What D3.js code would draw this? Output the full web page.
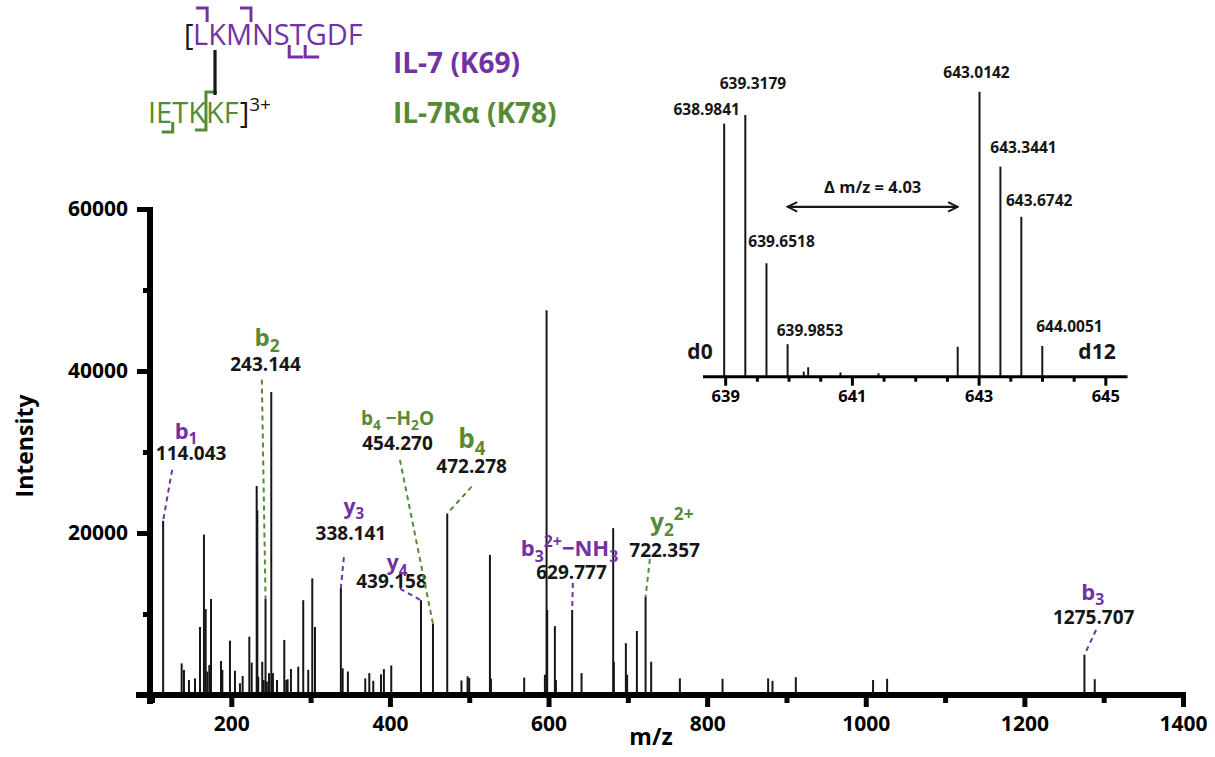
<!DOCTYPE html>
<html>
<head>
<meta charset="utf-8">
<script src="https://cdn.jsdelivr.net/npm/d3@7"></script>
<style>
  html, body { margin: 0; padding: 0; background: #ffffff; }
  svg { display: block; font-family: "Open Sans", "Liberation Sans", sans-serif; }
</style>
</head>
<body>
<svg id="chart" width="1215" height="757"></svg>
<script>
// ---------- MS/MS spectrum: unassigned peaks ----------
const peakMz = [137.4, 140.3, 146.6, 154.2, 160.5, 165.5, 167.7, 169.8, 172.3, 174.4, 187.0, 188.7, 198.3, 204.6,
  210.9, 214.3, 222.7, 225.7, 232.0, 232.8, 234.0, 239.0, 240.8, 244.8, 247.5, 250.4, 252.5, 257.6, 266.8, 269.3,
  271.0, 275.2, 284.4, 290.7, 297.0, 302.1, 305.5, 340.4, 347.0, 368.9, 374.0, 379.0, 388.7, 392.4, 401.7, 490.2,
  497.9, 500.0, 526.1, 527.4, 569.3, 595.4, 597.5, 598.3, 608.0, 609.3, 641.6, 681.5, 682.4, 697.5, 699.1, 711.4,
  729.4, 765.6, 819.4, 876.9, 882.4, 911.8, 1009.2, 1026.9, 1288.7];
const peakIntensity = [3900, 3100, 1850, 2050, 8400, 19800, 10600, 2900, 3700, 11850, 4200, 3100, 6700, 3000,
  1450, 2350, 7200, 4000, 25800, 22800, 2250, 4100, 1850, 1650, 2700, 37400, 2700, 1850, 6800, 1850,
  1950, 3200, 3500, 11700, 3100, 14400, 8400, 3300, 2900, 2050, 2700, 1750, 2550, 3200, 3650, 1800,
  2300, 2100, 17300, 2000, 2150, 2500, 47500, 10500, 8500, 1850, 2700, 20600, 4100, 6400, 2500, 7900,
  4100, 2050, 2000, 2050, 1750, 2200, 1850, 2000, 1950];

// ---------- assigned fragment ions ----------
const ionNames = ["b_{1}", "b_{2}", "y_{3}", "y_{4}", "b_{4} −H_{2}O", "b_{4}", "b_{3}^{2+}−NH_{3}", "y_{2}^{2+}", "b_{3}"];
const ionMz = [114.043, 243.144, 338.141, 439.158, 454.270, 472.278, 629.777, 722.357, 1275.707];
const ionIntensity = [21500, 11900, 13200, 11700, 8800, 22400, 10500, 12100, 4950];
const ionChain = ["IL-7", "IL-7Rα", "IL-7", "IL-7", "IL-7Rα", "IL-7Rα", "IL-7", "IL-7Rα", "IL-7"];

// ---------- precursor isotope envelope (MS1) ----------
const msMz = [638.9841, 639.3179, 639.6518, 639.9853, 640.24, 640.31, 640.82, 641.42, 642.67,
  643.0142, 643.3441, 643.6742, 644.0051];
const msRelative = [88.8, 91.8, 39.8, 11.4, 1.8, 3.3, 1.5, 1.2, 10.5, 100, 73.7, 56.1, 10.8];
const msLabelled = [638.9841, 639.3179, 639.6518, 639.9853, 643.0142, 643.3441, 643.6742, 644.0051];

// ---------- axis ticks ----------
const xTicks = [200, 400, 600, 800, 1000, 1200, 1400];
const xMinorTicks = [100, 300, 500, 700, 900, 1100, 1300];
const yTicks = [0, 20000, 40000, 60000];
const yMinorTicks = [10000, 30000, 50000];
const insetTicks = [639, 641, 643, 645];
const insetMinorTicks = [639.5, 640, 640.5, 641.5, 642, 642.5, 643.5, 644, 644.5];

// ---------- cross-linked peptide ----------
const il7Seq = "LKMNSTGDF";
const il7rSeq = "IETKKF";
const chargeState = "3+";

// ---------- styling / layout ----------
const colors = { "IL-7": "#7231a5", "IL-7Rα": "#568a35" };
const ink = "#161616";

// label placement relative to the peak top: value text centre (dx, dy),
// ion text centre relative to value text, leader start relative to value text
const ionLayout = [
  { dx: 28, dy: -68, ix: -5, iy: -22, lx: -19, ly: 17, fs: 22 },
  { dx: 0, dy: -234, ix: 1.5, iy: -27, lx: -3.7, ly: 15, fs: 24 },
  { dx: 10, dy: -55, ix: 3, iy: -27, lx: -7, ly: 24, fs: 21 },
  { dx: -29.5, dy: -19.5, ix: 5.5, iy: -18, lx: 8.5, ly: 8, fs: 21 },
  { dx: -35.5, dy: -180.5, ix: 0, iy: -25, lx: 2.5, ly: 16.7, fs: 19 },
  { dx: 24.4, dy: -47.6, ix: 0.3, iy: -27, lx: 0, ly: 20.7, fs: 26 },
  { dx: -0.6, dy: -37.3, ix: -2, iy: -24.5, lx: 1.3, ly: 10.3, fs: 22 },
  { dx: 19, dy: -47, ix: 7.3, iy: -29, lx: -14.7, ly: 9, fs: 24 },
  { dx: 9.3, dy: -38.2, ix: -1, iy: -25, lx: 2.3, ly: 13.3, fs: 22 }
];
const msLabelOffset = [[-17.5, -14.3], [7.6, -31.8], [15.1, -21.6], [22.3, -14.2],
  [-3, -19], [23.1, -19.4], [17.9, -16.8], [27.2, -19.2]];

const svg = d3.select("#chart");

// ---------- scales ----------
const x = d3.scaleLinear().domain([100, 1400]).range([152, 1183]);
const y = d3.scaleLinear().domain([0, 60000]).range([695, 209]);
const xi = d3.scaleLinear().domain([638.65, 645.35]).range([703, 1127.5]);
const yi = d3.scaleLinear().domain([0, 100]).range([376.7, 91.7]);

// ---------- rich text helper (sub/superscripts) ----------
function richText(sel, str, fs) {
  const re = /(_\{[^}]*\}|\^\{[^}]*\}|[^_^]+)/g;
  let m, shift = 0;
  while ((m = re.exec(str))) {
    let t = m[0], mode = "n";
    if (t.startsWith("_{")) { mode = "sub"; t = t.slice(2, -1); }
    else if (t.startsWith("^{")) { mode = "sup"; t = t.slice(2, -1); }
    const target = mode === "sub" ? fs * 0.26 : mode === "sup" ? -fs * 0.4 : 0;
    sel.append("tspan")
      .attr("dy", target - shift)
      .attr("font-size", mode === "n" ? fs : fs * 0.72)
      .text(t);
    shift = target;
  }
}

// ---------- main spectrum ----------
const main = svg.append("g");

main.selectAll("line.peak")
  .data(d3.zip(peakMz, peakIntensity))
  .join("line")
  .attr("class", "peak")
  .attr("x1", d => x(d[0])).attr("x2", d => x(d[0]))
  .attr("y1", y(0)).attr("y2", d => y(d[1]))
  .attr("stroke", ink).attr("stroke-width", 2);

main.selectAll("line.ion")
  .data(d3.zip(ionMz, ionIntensity))
  .join("line")
  .attr("class", "ion")
  .attr("x1", d => x(d[0])).attr("x2", d => x(d[0]))
  .attr("y1", y(0)).attr("y2", d => y(d[1]))
  .attr("stroke", ink).attr("stroke-width", 2);

// axes
function styleAxis(g, width) {
  g.select(".domain").remove();
  g.selectAll(".tick line").attr("stroke", "#000").attr("stroke-width", width);
  g.selectAll(".tick text").attr("fill", "#000").attr("font-weight", 700)
    .attr("font-family", '"Open Sans", sans-serif');
}

const xAxisG = main.append("g").attr("transform", `translate(0,${y(0)})`)
  .call(d3.axisBottom(x).tickValues(xTicks).tickSize(12).tickSizeOuter(0).tickPadding(9).tickFormat(d3.format("d")))
  .call(g => styleAxis(g, 5));
xAxisG.selectAll(".tick text").attr("font-size", 21);
main.append("g").attr("transform", `translate(0,${y(0)})`)
  .call(d3.axisBottom(x).tickValues(xMinorTicks).tickSize(8).tickFormat(""))
  .call(g => styleAxis(g, 5));

const yAxisG = main.append("g").attr("transform", `translate(${x(100) - 2},0)`)
  .call(d3.axisLeft(y).tickValues(yTicks).tickSize(13).tickSizeOuter(0).tickPadding(9).tickFormat(d3.format("d")))
  .call(g => styleAxis(g, 5));
yAxisG.selectAll(".tick text").attr("font-size", 21);
yAxisG.selectAll(".tick").filter(d => d === 0).select("text").remove();
main.append("g").attr("transform", `translate(${x(100) - 2},0)`)
  .call(d3.axisLeft(y).tickValues(yMinorTicks).tickSize(7).tickFormat(""))
  .call(g => styleAxis(g, 5));

// axis lines
main.append("line").attr("x1", 136).attr("x2", x(1400) + 3).attr("y1", y(0)).attr("y2", y(0))
  .attr("stroke", "#000").attr("stroke-width", 6);
main.append("line").attr("x1", x(100) - 2).attr("x2", x(100) - 2).attr("y1", y(60000) - 2).attr("y2", y(0) + 9)
  .attr("stroke", "#000").attr("stroke-width", 6);

// axis titles
main.append("text").attr("x", 651).attr("y", 745).attr("text-anchor", "middle")
  .attr("font-size", 23).attr("font-weight", 700).attr("fill", "#000").text("m/z");
main.append("text").attr("transform", "translate(33,446) rotate(-90)").attr("text-anchor", "middle")
  .attr("font-size", 23).attr("font-weight", 700).attr("fill", "#000").text("Intensity");

// fragment ion annotations
ionMz.forEach((mz, i) => {
  const L = ionLayout[i];
  const px = x(mz), py = y(ionIntensity[i]);
  const vx = px + L.dx, vy = py + L.dy;
  const col = colors[ionChain[i]];
  main.append("line")
    .attr("x1", vx + L.lx).attr("y1", vy + L.ly)
    .attr("x2", px).attr("y2", py)
    .attr("stroke", col).attr("stroke-width", 2).attr("stroke-dasharray", "5,4");
  main.append("text").attr("x", vx).attr("y", vy + 19 * 0.36)
    .attr("text-anchor", "middle").attr("font-size", 19).attr("font-weight", 700)
    .attr("fill", ink).text(d3.format(".3f")(mz));
  const t = main.append("text").attr("x", vx + L.ix).attr("y", vy + L.iy + L.fs * 0.36)
    .attr("text-anchor", "middle").attr("font-weight", 700).attr("fill", col);
  richText(t, ionNames[i], L.fs);
});

// ---------- inset: precursor isotope envelope ----------
const inset = svg.append("g");
inset.selectAll("line.ms")
  .data(d3.zip(msMz, msRelative))
  .join("line")
  .attr("class", "ms")
  .attr("x1", d => xi(d[0])).attr("x2", d => xi(d[0]))
  .attr("y1", yi(0)).attr("y2", d => yi(d[1]))
  .attr("stroke", ink).attr("stroke-width", 2);

const insetAxis = inset.append("g").attr("transform", `translate(0,${yi(0)})`)
  .call(d3.axisBottom(xi).tickValues(insetTicks).tickSize(9).tickPadding(5).tickFormat(d3.format("d")))
  .call(g => styleAxis(g, 3));
insetAxis.selectAll(".tick text").attr("font-size", 16.5);
inset.append("g").attr("transform", `translate(0,${yi(0)})`)
  .call(d3.axisBottom(xi).tickValues(insetMinorTicks).tickSize(5).tickFormat(""))
  .call(g => styleAxis(g, 3));
inset.append("line").attr("x1", xi.range()[0]).attr("x2", xi.range()[1])
  .attr("y1", yi(0)).attr("y2", yi(0)).attr("stroke", "#000").attr("stroke-width", 3);

msLabelled.forEach((mz, i) => {
  const idx = msMz.indexOf(mz);
  const [dx, dy] = msLabelOffset[i];
  inset.append("text")
    .attr("x", xi(mz) + dx).attr("y", yi(msRelative[idx]) + dy + 5.5)
    .attr("text-anchor", "middle").attr("font-size", 15.5).attr("font-weight", 700)
    .attr("fill", ink).text(mz.toFixed(4));
});

inset.append("text").attr("x", 700).attr("y", 359).attr("text-anchor", "middle")
  .attr("font-size", 21).attr("font-weight", 700).attr("fill", ink).text("d0");
inset.append("text").attr("x", 1097).attr("y", 359).attr("text-anchor", "middle")
  .attr("font-size", 21).attr("font-weight", 700).attr("fill", ink).text("d12");

// isotope spacing arrow between light and heavy clusters
const arrowY = yi(59.6);
const ax1 = xi(msMz[3]), ax2 = xi(msMz[8]);
const defs = svg.append("defs");
defs.append("marker").attr("id", "ah").attr("viewBox", "0 0 10 10")
  .attr("refX", 9).attr("refY", 5).attr("markerWidth", 5).attr("markerHeight", 5)
  .attr("markerUnits", "strokeWidth").attr("orient", "auto-start-reverse")
  .append("path").attr("d", "M1,1 L9,5 L1,9").attr("fill", "none").attr("stroke", ink).attr("stroke-width", 1.6);
inset.append("line").attr("x1", ax1).attr("x2", ax2).attr("y1", arrowY).attr("y2", arrowY)
  .attr("stroke", ink).attr("stroke-width", 2.4)
  .attr("marker-start", "url(#ah)").attr("marker-end", "url(#ah)");
inset.append("text").attr("x", (ax1 + ax2) / 2).attr("y", arrowY - 14)
  .attr("text-anchor", "middle").attr("font-size", 16.5).attr("font-weight", 700).attr("fill", ink)
  .text("Δ m/z = " + d3.format(".2f")(msMz[9] - msMz[0]));

// ---------- cross-linked peptide scheme ----------
const pep = svg.append("g");
const fsPep = 29;
const row1Base = 45, row2Base = 123;

pep.append("text").attr("x", 184).attr("y", row1Base).attr("font-size", fsPep).attr("fill", ink).text("[");
const seq1 = pep.append("text").attr("x", 193).attr("y", row1Base).attr("font-size", fsPep)
  .attr("fill", colors["IL-7"]).text(il7Seq);
const seq2 = pep.append("text").attr("x", 148).attr("y", row2Base).attr("font-size", fsPep)
  .attr("fill", colors["IL-7Rα"]).text(il7rSeq);

const n1 = seq1.node(), n2 = seq2.node();
const after = (node, i) => { const e = node.getExtentOfChar(i); return e.x + e.width; };
const centre = (node, i) => { const e = node.getExtentOfChar(i); return e.x + e.width / 2; };

const end2 = after(n2, il7rSeq.length - 1);
const close = pep.append("text").attr("x", end2 + 1).attr("y", row2Base).attr("font-size", fsPep).attr("fill", ink);
close.append("tspan").text("]");
close.append("tspan").attr("dy", -12).attr("font-size", 19).text(chargeState);

const tab = 11, bw = 3;
const bracket = (pts, col) => pep.append("path")
  .attr("d", d3.line()(pts)).attr("fill", "none").attr("stroke", col)
  .attr("stroke-width", bw).attr("stroke-linejoin", "miter");

// IL-7: b-ion cleavages above, y-ion cleavages below
[0, 2].forEach(i => {
  const bx = after(n1, i) - 1;
  bracket([[bx - tab, 8], [bx, 8], [bx, 22]], colors["IL-7"]);
});
[4, 5].forEach(i => {
  const bx = after(n1, i) - 0.5;
  bracket([[bx, 45], [bx, 57], [bx + 14, 57]], colors["IL-7"]);
});
// IL-7Rα: b-ion after E, b/y pair between the two lysines
{
  const bx = after(n2, 1) + 0.5;
  bracket([[bx - tab, 132], [bx, 132], [bx, 122]], colors["IL-7Rα"]);
  const kx = after(n2, 3);
  bracket([[kx - tab, 130], [kx, 130], [kx, 92], [kx + tab, 92]], colors["IL-7Rα"]);
}

// cross-link between K69 and K78
const linkX = centre(n1, 1) - 2;
pep.append("line").attr("x1", linkX).attr("x2", linkX).attr("y1", 50).attr("y2", 95)
  .attr("stroke", ink).attr("stroke-width", 3.2);

pep.append("text").attr("x", 393).attr("y", 73).attr("font-size", 28).attr("font-weight", 700)
  .attr("fill", colors["IL-7"]).text("IL-7 (K69)");
pep.append("text").attr("x", 393).attr("y", 123).attr("font-size", 28).attr("font-weight", 700)
  .attr("fill", colors["IL-7Rα"]).text("IL-7Rα (K78)");
</script>
</body>
</html>
